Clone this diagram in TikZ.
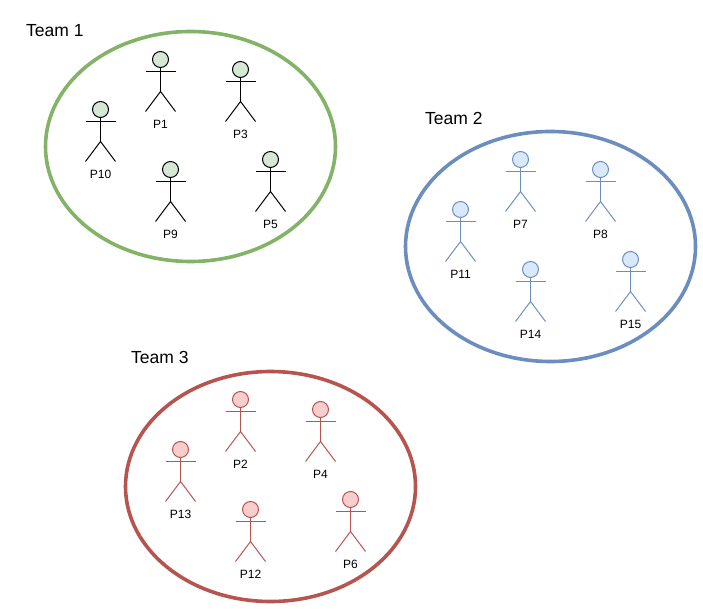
\documentclass[tikz,border=0pt]{standalone}
\usepackage{fontspec}
\setmainfont{Liberation Sans}
\usetikzlibrary{shapes.geometric}

\definecolor{C1line}{HTML}{82b366}
\definecolor{C1fill}{HTML}{d5e8d4}
\definecolor{C2line}{HTML}{6c8ebf}
\definecolor{C2fill}{HTML}{dae8fc}
\definecolor{C3line}{HTML}{b85450}
\definecolor{C3fill}{HTML}{f8cecc}

\tikzset{
    team/.style={draw=#1, shape=ellipse, line width=3.6pt, inner sep=0pt, minimum width=290pt, minimum height=230pt},
    teamlabel/.style={font=\fontsize{17.5}{20}\selectfont, inner sep=0pt, anchor=west},
    pics/person/.style args={#1/#2/#3}{
        code={
            \node[draw=#2, fill=#3, shape=circle, inner sep=0pt, minimum size=16pt, line width=1pt] (-head) at (0,0) {};
            \coordinate (-armleft) at (-15,12);
            \coordinate (-armright) at (15,12);
            \coordinate (-hip) at (0,32);
            \coordinate (-footleft) at (-15,52);
            \coordinate (-footright) at (15,52);
            \draw[#2, line width=1pt] (-head) -- (-hip);
            \draw[#2, line width=1pt] (-armleft) -- (-armright);
            \draw[#2, line width=1pt] (-footleft) -- (-hip) -- (-footright);
            \node[font=\fontsize{12}{14}\selectfont, inner sep=0pt] (-name) at (0,65) {#1};
        }
    },
}

\begin{document}
\begin{tikzpicture}[x=1pt, y=-1pt]
    \useasboundingbox (-0.5,-0.5) rectangle (702.5,608.5);

    % team 1
    \node[team=C1line] (team1) at (190,146) {};
    \node[teamlabel] (label1) at (25.5,30) {Team 1};
    \pic (p1) at (160,59) {person={P1/black/C1fill}};
    \pic (p3) at (240,69) {person={P3/black/C1fill}};
    \pic (p10) at (100,109) {person={P10/black/C1fill}};
    \pic (p9) at (170,169) {person={P9/black/C1fill}};
    \pic (p5) at (270,159) {person={P5/black/C1fill}};

    % team 2
    \node[team=C2line] (team2) at (550,246) {};
    \node[teamlabel] (label2) at (424.5,118) {Team 2};
    \pic (p7) at (520,159) {person={P7/C2line/C2fill}};
    \pic (p8) at (600,169) {person={P8/C2line/C2fill}};
    \pic (p11) at (460,209) {person={P11/C2line/C2fill}};
    \pic (p14) at (530,269) {person={P14/C2line/C2fill}};
    \pic (p15) at (630,259) {person={P15/C2line/C2fill}};

    % team 3
    \node[team=C3line] (team3) at (270,486) {};
    \node[teamlabel] (label3) at (130.5,357) {Team 3};
    \pic (p2) at (240,399) {person={P2/C3line/C3fill}};
    \pic (p4) at (320,409) {person={P4/C3line/C3fill}};
    \pic (p13) at (180,449) {person={P13/C3line/C3fill}};
    \pic (p12) at (250,509) {person={P12/C3line/C3fill}};
    \pic (p6) at (350,499) {person={P6/C3line/C3fill}};

\end{tikzpicture}
\end{document}
